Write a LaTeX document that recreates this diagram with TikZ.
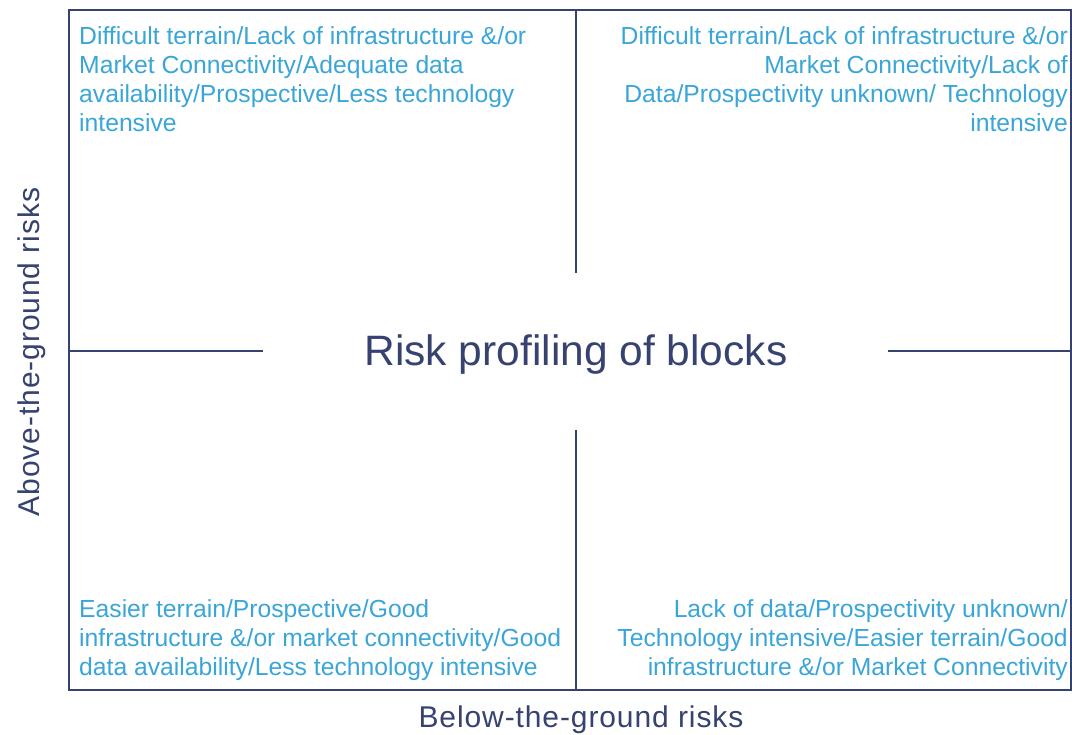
\documentclass[tikz,border=0pt]{standalone}
\usepackage{fontspec}
\setmainfont{Liberation Sans}
\definecolor{riskblue}{HTML}{3AA6D8}
\definecolor{risknavy}{HTML}{36426F}
\begin{document}
\begin{tikzpicture}
	[x=1pt,y=-1pt,
	 cell/.style={inner sep=0pt,text=riskblue,font=\fontsize{24.7}{29.3}\selectfont},
	 axis/.style={inner sep=0pt,text=risknavy,font=\fontsize{30}{32}\selectfont\addfontfeature{LetterSpace=3}},
	 rule/.style={draw=risknavy,line width=1.2pt}]
    \useasboundingbox[fill=white] (0,0) rectangle (1072,735);

    % frame and quadrant dividers
    \draw[rule] (69,10) rectangle (1071,690);
    \coordinate (T) at (576,10);
    \coordinate (B) at (576,690);
    \coordinate (L) at (69,351);
    \coordinate (R) at (1071,351);
    \draw[rule] (T) -- (576,273);
    \draw[rule] (576,430) -- (B);
    \draw[rule] (L) -- (263,351);
    \draw[rule] (888,351) -- (R);

    \node[inner sep=0pt,text=risknavy,font=\fontsize{42.5}{46}\selectfont,anchor=base]
        (title) at (576,366) {Risk profiling of blocks};

    \node[cell,anchor=north west,align=left] (tl) at (79,26)
        {Difficult terrain/Lack of infrastructure \&/or\\Market Connectivity/Adequate data\\availability/Prospective/Less technology\\intensive};
    \node[cell,anchor=north east,align=right] (tr) at (1068,26)
        {Difficult terrain/Lack of infrastructure \&/or\\Market Connectivity/Lack of\\Data/Prospectivity unknown/ Technology\\intensive};
    \node[cell,anchor=north west,align=left] (bl) at (79,599)
        {Easier terrain/Prospective/Good\\infrastructure \&/or market connectivity/Good\\data availability/Less technology intensive};
    \node[cell,anchor=north east,align=right] (br) at (1068,599)
        {Lack of data/Prospectivity unknown/\\Technology intensive/Easier terrain/Good\\infrastructure \&/or Market Connectivity};

    \node[axis,anchor=base] (xlab) at (581,727) {Below-the-ground risks};
    \node[axis,anchor=base,rotate=90] (ylab) at (39,352) {Above-the-ground risks};

\end{tikzpicture}
\end{document}
